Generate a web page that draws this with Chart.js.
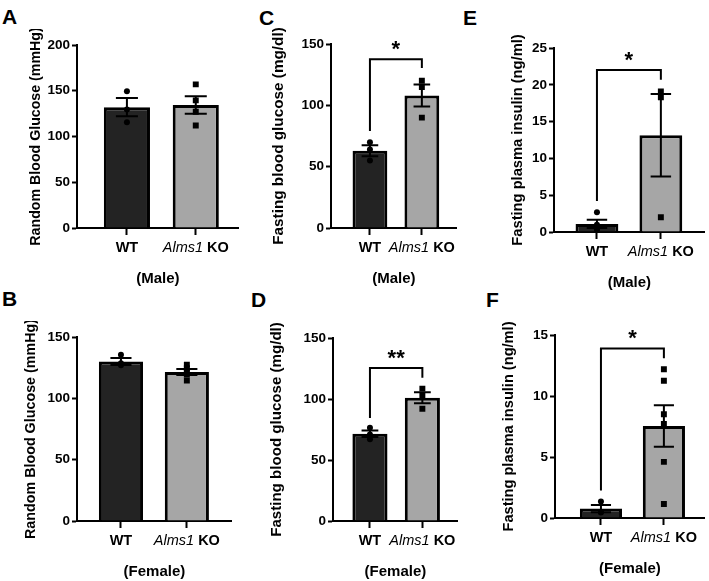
<!DOCTYPE html>
<html>
<head>
<meta charset="utf-8">
<script src="https://cdn.jsdelivr.net/npm/chart.js@4.4.1/dist/chart.umd.min.js"></script>
<style>
  body { margin: 0; background: #fff; width: 709px; height: 581px; position: relative; overflow: hidden;
         font-family: "Liberation Sans", Arial, Helvetica, sans-serif; }
  canvas { position: absolute; }
  .tag { position: absolute; font-weight: bold; font-size: 21px; line-height: 21px; color: #000; }
</style>
</head>
<body>
<div class="tag" style="left:2px;top:6px">A</div>
<div class="tag" style="left:259px;top:7px">C</div>
<div class="tag" style="left:463px;top:7px">E</div>
<div class="tag" style="left:2px;top:288px">B</div>
<div class="tag" style="left:251px;top:289px">D</div>
<div class="tag" style="left:486px;top:289px">F</div>

<canvas id="cA"></canvas>
<canvas id="cB"></canvas>
<canvas id="cC"></canvas>
<canvas id="cD"></canvas>
<canvas id="cE"></canvas>
<canvas id="cF"></canvas>

<script>
const groups = ['WT', 'Alms1 KO'];

// A - random blood glucose, male
const randMaleMean = [132, 134.5];
const randMaleSem = [10, 9.5];
const randMaleWT = [149.5, 129.5, 115.5];
const randMaleKO = [157, 139.5, 127, 112];

// B - random blood glucose, female
const randFemaleMean = [130, 121.5];
const randFemaleSem = [2.8, 2.5];
const randFemaleWT = [135.5, 127, 128.5];
const randFemaleKO = [124.5, 127.5, 122, 114.5, 119.5];

// C - fasting blood glucose, male  (sig = WT leg end, bracket, KO leg end)
const fastMaleMean = [63, 108];
const fastMaleSem = [4.5, 9];
const fastMaleWT = [70, 64, 55];
const fastMaleKO = [120, 115, 90];
const fastMaleSig = [79, 137.5, 130.5];

// D - fasting blood glucose, female
const fastFemaleMean = [71.5, 101];
const fastFemaleSem = [2.7, 4.5];
const fastFemaleWT = [76.5, 71, 67];
const fastFemaleKO = [108.5, 103, 92];
const fastFemaleSig = [84.5, 125.5, 117.5];

// E - fasting plasma insulin, male
const insMaleMean = [1.1, 13.15];
const insMaleSem = [0.55, 5.6];
const insMaleWT = [2.7, 1.0, 0.4, 0.3];
const insMaleKO = [19.1, 18.3, 2.0];
const insMaleSig = [4.2, 22, 20.7];

// F - fasting plasma insulin, female
const insFemaleMean = [0.77, 7.55];
const insFemaleSem = [0.3, 1.7];
const insFemaleWT = [1.35, 0.5, 0.45];
const insFemaleKO = [12.2, 11.25, 8.5, 7.7, 4.6, 1.15];
const insFemaleSig = [2.25, 13.9, 13.1];

const AXIS_W = 76, TOP_PAD = 16, X_H = 62;
const FONT = '"Liberation Sans", Arial, Helvetica, sans-serif';

const panels = [
    { id: 'cA', mean: randMaleMean, sem: randMaleSem, wt: randMaleWT, ko: randMaleKO, sig: null, star: '',
      yMax: 200, yStep: 50, yTitle: 'Random Blood Glucose (mmHg)', xTitle: '(Male)',
      area: [77, 45, 239, 228], xRange: [0.275, 2.625], titleGap: 41, titleSize: 14.2 },
    { id: 'cB', mean: randFemaleMean, sem: randFemaleSem, wt: randFemaleWT, ko: randFemaleKO, sig: null, star: '',
      yMax: 150, yStep: 50, yTitle: 'Random Blood Glucose (mmHg)', xTitle: '(Female)',
      area: [77, 337, 232, 521], xRange: [0.333, 2.682], titleGap: 46, titleSize: 14.3 },
    { id: 'cC', mean: fastMaleMean, sem: fastMaleSem, wt: fastMaleWT, ko: fastMaleKO, sig: fastMaleSig, star: '*',
      yMax: 150, yStep: 50, yTitle: 'Fasting blood glucose (mg/dl)', xTitle: '(Male)',
      area: [331, 44, 457, 228], xRange: [0.25, 2.673], titleGap: 52, titleSize: 15.3 },
    { id: 'cD', mean: fastFemaleMean, sem: fastFemaleSem, wt: fastFemaleWT, ko: fastFemaleKO, sig: fastFemaleSig, star: '**',
      yMax: 150, yStep: 50, yTitle: 'Fasting blood glucose (mg/dl)', xTitle: '(Female)',
      area: [333, 338, 458, 521], xRange: [0.295, 2.676], titleGap: 56.5, titleSize: 15.1 },
    { id: 'cE', mean: insMaleMean, sem: insMaleSem, wt: insMaleWT, ko: insMaleKO, sig: insMaleSig, star: '*',
      yMax: 25, yStep: 5, yTitle: 'Fasting plasma insulin (ng/ml)', xTitle: '(Male)',
      area: [554, 48, 705, 232], xRange: [0.328, 2.6875], titleGap: 36.5, titleSize: 14.7 },
    { id: 'cF', mean: insFemaleMean, sem: insFemaleSem, wt: insFemaleWT, ko: insFemaleKO, sig: insFemaleSig, star: '*',
      yMax: 15, yStep: 5, yTitle: 'Fasting plasma insulin (ng/ml)', xTitle: '(Female)',
      area: [555, 335, 705, 518], xRange: [0.27, 2.65], titleGap: 46.5, titleSize: 14.6 }
];

function drawPanel(p) {
    const canvas = document.getElementById(p.id);
    const [left, top, right, bottom] = p.area;
    canvas.width = right - left + AXIS_W + 4;
    canvas.height = bottom - top + TOP_PAD + X_H;
    canvas.style.left = (left - AXIS_W) + 'px';
    canvas.style.top = (top - TOP_PAD) + 'px';

    // error bars, significance bracket and the x labels (italic gene name)
    const extras = {
        id: 'extras',
        afterDraw(chart) {
            const { ctx, chartArea, scales: { x, y } } = chart;
            const step = x.getPixelForValue(2) - x.getPixelForValue(1);
            ctx.save();
            ctx.strokeStyle = '#000';
            ctx.lineWidth = 2;
            p.mean.forEach((m, i) => {
                const cx = x.getPixelForValue(i + 1);
                const hi = y.getPixelForValue(m + p.sem[i]);
                const lo = y.getPixelForValue(Math.max(m - p.sem[i], 0));
                const cap = step * 0.16;
                ctx.beginPath();
                ctx.moveTo(cx, hi); ctx.lineTo(cx, lo);
                ctx.moveTo(cx - cap, hi); ctx.lineTo(cx + cap, hi);
                ctx.moveTo(cx - cap, lo); ctx.lineTo(cx + cap, lo);
                ctx.stroke();
            });

            if (p.sig) {
                const x1 = x.getPixelForValue(1), x2 = x.getPixelForValue(2);
                const yb = y.getPixelForValue(p.sig[1]);
                ctx.beginPath();
                ctx.moveTo(x1, y.getPixelForValue(p.sig[0]));
                ctx.lineTo(x1, yb);
                ctx.lineTo(x2, yb);
                ctx.lineTo(x2, y.getPixelForValue(p.sig[2]));
                ctx.stroke();
                ctx.fillStyle = '#000';
                ctx.font = `bold 22px ${FONT}`;
                ctx.textAlign = 'center';
                ctx.textBaseline = 'alphabetic';
                ctx.fillText(p.star, (x1 + x2) / 2, yb - 3);
            }

            const ly = chartArea.bottom + 20;
            ctx.fillStyle = '#000';
            ctx.textBaseline = 'middle';
            ctx.textAlign = 'center';
            ctx.font = `bold 14.5px ${FONT}`;
            ctx.fillText(groups[0], x.getPixelForValue(1), ly);

            const [gene, rest] = groups[1].split(' ');
            const italic = `italic 14.5px ${FONT}`, bold = `bold 14.5px ${FONT}`;
            ctx.font = italic;
            const w1 = ctx.measureText(gene).width;
            ctx.font = bold;
            const w2 = ctx.measureText(' ' + rest).width;
            let sx = x.getPixelForValue(2) - (w1 + w2) / 2;
            ctx.textAlign = 'left';
            ctx.font = italic;
            ctx.fillText(gene, sx, ly);
            ctx.font = bold;
            ctx.fillText(' ' + rest, sx + w1, ly);
            ctx.restore();
        }
    };

    return new Chart(canvas, {
        type: 'bar',
        data: {
            datasets: [
                {
                    type: 'scatter',
                    data: p.wt.map(v => ({ x: 1, y: v })),
                    pointStyle: 'circle',
                    pointRadius: 3,
                    pointBackgroundColor: '#000',
                    backgroundColor: '#000',
                    pointBorderWidth: 0,
                    order: 0
                },
                {
                    type: 'scatter',
                    data: p.ko.map(v => ({ x: 2, y: v })),
                    pointStyle: 'rect',
                    pointRadius: 4.2,
                    pointBackgroundColor: '#000',
                    backgroundColor: '#000',
                    pointBorderWidth: 0,
                    order: 0
                },
                {
                    type: 'bar',
                    data: p.mean.map((v, i) => ({ x: i + 1, y: v })),
                    backgroundColor: ['#232323', '#a6a6a6'],
                    borderColor: '#000',
                    borderWidth: 3,
                    borderSkipped: 'start',
                    categoryPercentage: 1,
                    barPercentage: 0.67,
                    order: 1
                }
            ]
        },
        options: {
            responsive: false,
            animation: false,
            layout: { padding: { top: TOP_PAD, right: 4, left: 0, bottom: 0 } },
            plugins: { legend: { display: false }, tooltip: { enabled: false } },
            scales: {
                x: {
                    type: 'linear',
                    offset: false,
                    min: p.xRange[0],
                    max: p.xRange[1],
                    afterBuildTicks: s => { s.ticks = [{ value: 1 }, { value: 2 }]; },
                    afterFit: s => { s.height = X_H; },
                    ticks: { display: false },
                    grid: { offset: false, drawOnChartArea: false, drawTicks: true, tickLength: 7, tickWidth: 2, color: '#000' },
                    border: { color: '#000', width: 2 },
                    title: {
                        display: true, text: p.xTitle, color: '#000',
                        font: { family: FONT, weight: 'bold', size: 15 },
                        padding: { top: 0, bottom: 2 }
                    }
                },
                y: {
                    min: 0,
                    max: p.yMax,
                    afterFit: s => { s.width = AXIS_W; },
                    ticks: { stepSize: p.yStep, color: '#000', padding: 2, font: { family: FONT, weight: 'bold', size: 13.5 } },
                    grid: { drawOnChartArea: false, drawTicks: true, tickLength: 5, tickWidth: 2, color: '#000' },
                    border: { color: '#000', width: 2 },
                    title: {
                        display: true, text: p.yTitle, color: '#000',
                        font: { family: FONT, weight: 'bold', size: p.titleSize },
                        padding: { top: AXIS_W - p.titleGap - p.titleSize * 0.6, bottom: 0 }
                    }
                }
            }
        },
        plugins: [extras]
    });
}

panels.forEach(drawPanel);
</script>
</body>
</html>
